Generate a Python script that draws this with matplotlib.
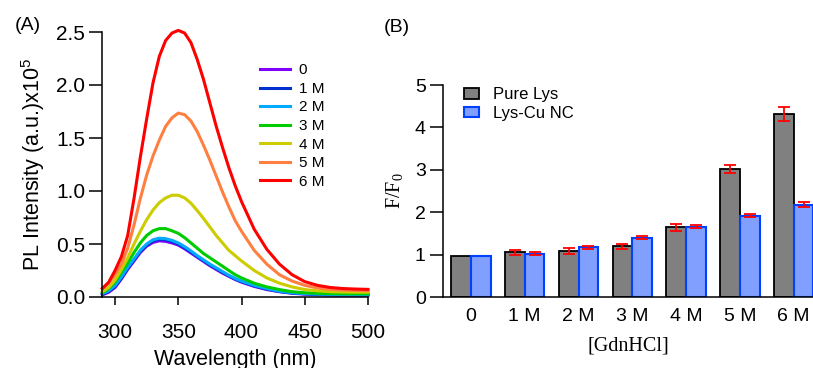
import numpy as np
import matplotlib
matplotlib.use("Agg")
from matplotlib import pyplot as plt

plt.rcParams['font.family'] = ['Liberation Sans', 'DejaVu Sans']

# (A) PL spectra
wavelength = [290, 295, 300, 305, 310, 315, 320, 325, 330, 335, 340, 345, 350,
              355, 360, 365, 370, 375, 380, 385, 390, 395, 400,
              410, 420, 430, 440, 450, 460, 470, 480, 490, 500]
pl_0 = [0.02, 0.045, 0.09, 0.17, 0.26, 0.34, 0.42, 0.48, 0.515, 0.53, 0.525, 0.51, 0.49,
        0.455, 0.415, 0.375, 0.335, 0.295, 0.26, 0.225, 0.195, 0.165, 0.14,
        0.10, 0.07, 0.05, 0.035, 0.027, 0.022, 0.02, 0.018, 0.018, 0.018]
pl_1 = [0.025, 0.055, 0.10, 0.18, 0.27, 0.35, 0.43, 0.49, 0.53, 0.545, 0.54, 0.525, 0.50,
        0.465, 0.425, 0.383, 0.343, 0.303, 0.268, 0.233, 0.20, 0.17, 0.145,
        0.105, 0.075, 0.052, 0.038, 0.03, 0.025, 0.022, 0.02, 0.02, 0.02]
pl_2 = [0.03, 0.06, 0.11, 0.19, 0.28, 0.36, 0.44, 0.50, 0.54, 0.555, 0.55, 0.535, 0.51,
        0.475, 0.435, 0.39, 0.35, 0.31, 0.275, 0.24, 0.205, 0.175, 0.15,
        0.11, 0.08, 0.055, 0.04, 0.032, 0.027, 0.025, 0.023, 0.022, 0.022]
pl_3 = [0.04, 0.08, 0.14, 0.23, 0.32, 0.42, 0.51, 0.58, 0.625, 0.645, 0.645, 0.625, 0.60,
        0.56, 0.51, 0.46, 0.41, 0.37, 0.33, 0.29, 0.25, 0.21, 0.18,
        0.13, 0.095, 0.07, 0.05, 0.04, 0.035, 0.032, 0.03, 0.03, 0.03]
pl_4 = [0.05, 0.09, 0.16, 0.26, 0.37, 0.50, 0.62, 0.73, 0.82, 0.89, 0.935, 0.96, 0.96,
        0.935, 0.885, 0.815, 0.74, 0.66, 0.58, 0.51, 0.44, 0.39, 0.34,
        0.25, 0.18, 0.13, 0.095, 0.07, 0.058, 0.05, 0.047, 0.045, 0.045]
pl_5 = [0.08, 0.13, 0.21, 0.31, 0.46, 0.68, 0.93, 1.15, 1.33, 1.48, 1.61, 1.69, 1.735,
        1.72, 1.66, 1.56, 1.43, 1.29, 1.14, 0.99, 0.85, 0.72, 0.62,
        0.44, 0.31, 0.21, 0.15, 0.11, 0.085, 0.072, 0.065, 0.062, 0.06]
pl_6 = [0.08, 0.14, 0.25, 0.38, 0.58, 0.93, 1.32, 1.68, 2.02, 2.27, 2.42, 2.49, 2.515,
        2.49, 2.40, 2.24, 2.05, 1.83, 1.61, 1.41, 1.22, 1.05, 0.90,
        0.64, 0.45, 0.31, 0.21, 0.145, 0.11, 0.09, 0.08, 0.075, 0.072]
spectra = [pl_0, pl_1, pl_2, pl_3, pl_4, pl_5, pl_6]
spec_labels = ["0", "1 M", "2 M", "3 M", "4 M", "5 M", "6 M"]
spec_colors = ["#7f00ff", "#0030d0", "#00aaff", "#00cc00", "#cccc00", "#ff7f40", "#ff0000"]

# (B) F/F0
conc = ["0", "1 M", "2 M", "3 M", "4 M", "5 M", "6 M"]
pure_lys = [0.97, 1.05, 1.08, 1.20, 1.64, 3.02, 4.32]
pure_err = [0.0, 0.06, 0.07, 0.06, 0.08, 0.09, 0.16]
lys_cu = [0.97, 1.02, 1.17, 1.40, 1.66, 1.92, 2.18]
lys_cu_err = [0.0, 0.04, 0.04, 0.03, 0.03, 0.04, 0.05]

fig = plt.figure(figsize=(8.13, 3.68), dpi=100)

# ---- panel A
axA = fig.add_axes([102.4 / 813, 71 / 368, 265.6 / 813, 265 / 368])
for y, lab, c in zip(spectra, spec_labels, spec_colors):
    axA.plot(wavelength, y, color=c, lw=2.2, label=lab, clip_on=False,
             solid_joinstyle="round")
axA.set_xlim(290, 500)
axA.set_ylim(0, 2.5)
axA.set_xticks([300, 350, 400, 450, 500])
axA.set_yticks([0.0, 0.5, 1.0, 1.5, 2.0, 2.5])
axA.set_yticklabels(["0.0", "0.5", "1.0", "1.5", "2.0", "2.5"])
for s in ["top", "right"]:
    axA.spines[s].set_visible(False)
for s in ["left", "bottom"]:
    axA.spines[s].set_linewidth(1.1)
axA.tick_params(axis="y", length=9.5, width=1.1, labelsize=15, pad=3)
axA.tick_params(axis="x", length=5.5, width=1.1, labelsize=15, pad=13)
axA.set_xlabel("Wavelength (nm)", fontsize=15.5, labelpad=5)
axA.set_ylabel(r"PL Intensity (a.u.)x10$^{\mathregular{5}}$", fontsize=15.5, labelpad=6)
axA.legend(loc="upper left", bbox_to_anchor=(0.57, 0.905), frameon=False,
           fontsize=11, handlelength=2.0, handletextpad=0.55, labelspacing=0.3,
           borderaxespad=0)
fig.text(28 / 813, 1 - 25 / 368, "(A)", fontsize=14, ha="center", va="center")

# ---- panel B
axB = fig.add_axes([443 / 813, 71 / 368, 370 / 813, 212 / 368])
x = np.arange(len(conc))
w = 0.367
axB.bar(x - w / 2, pure_lys, w, color="#808080", edgecolor="black", lw=1.3,
        label="Pure Lys")
axB.bar(x + w / 2, lys_cu, w, color="#809fff", edgecolor="#0040ff", lw=1.5,
        label="Lys-Cu NC")
axB.errorbar(x[1:] - w / 2, pure_lys[1:], yerr=pure_err[1:], fmt="none",
             ecolor="red", elinewidth=1.3, capsize=4, capthick=1.3)
axB.errorbar(x[1:] + w / 2, lys_cu[1:], yerr=lys_cu_err[1:], fmt="none",
             ecolor="red", elinewidth=1.3, capsize=4, capthick=1.3)
axB.set_xlim(-0.52, 6.36)
axB.set_ylim(0, 5)
axB.set_xticks(x)
axB.set_xticklabels(conc)
axB.set_yticks([0, 1, 2, 3, 4, 5])
for s in ["top", "right"]:
    axB.spines[s].set_visible(False)
for s in ["left", "bottom"]:
    axB.spines[s].set_linewidth(1.1)
axB.tick_params(axis="y", length=9.5, width=1.1, labelsize=14, pad=3)
axB.tick_params(axis="x", length=0, labelsize=14, pad=8)
axB.set_xlabel("[GdnHCl]", fontsize=14.5, family=["Liberation Serif"], labelpad=8)
axB.set_ylabel(r"F/F$_{\mathregular{0}}$", fontsize=14.5, family=["Liberation Serif"],
               labelpad=6)
axB.legend(loc="upper left", bbox_to_anchor=(0.04, 1.02), frameon=False,
           fontsize=12, handlelength=0.9, handleheight=0.6, handletextpad=0.8,
           labelspacing=0.2, borderaxespad=0)
fig.text(397 / 813, 1 - 28 / 368, "(B)", fontsize=14, ha="center", va="center")

fig.savefig("out.png", dpi=100)
